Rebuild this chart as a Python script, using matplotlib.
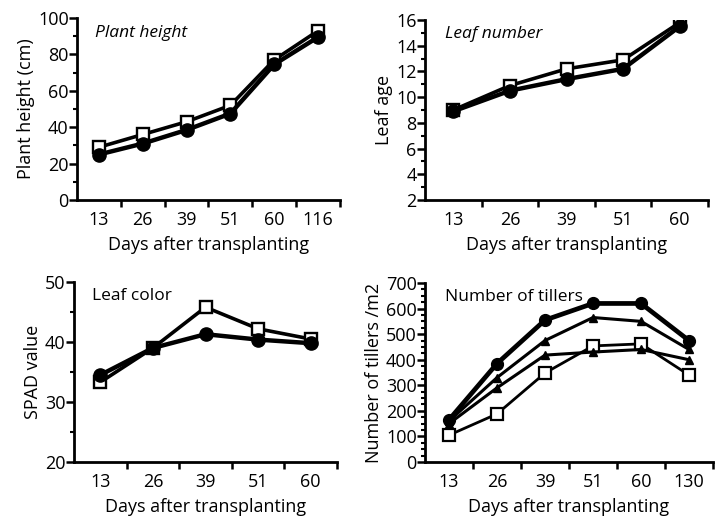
import matplotlib
matplotlib.use("Agg")
import matplotlib.pyplot as plt
from matplotlib.ticker import MultipleLocator, FixedLocator

plt.rcParams['font.family'] = ['Open Sans', 'DejaVu Sans']

# ---------------- data ----------------
ph_days = ["13", "26", "39", "51", "60", "116"]
ph_square = [29, 36, 43, 52, 77, 93]
ph_circle = [25, 31, 38.5, 47.5, 74.5, 89.5]

ln_days = ["13", "26", "39", "51", "60"]
ln_square = [9.0, 10.9, 12.2, 12.9, 15.8]
ln_circle = [8.9, 10.5, 11.4, 12.2, 15.5]

lc_days = ["13", "26", "39", "51", "60"]
lc_square = [33.3, 39.0, 45.8, 42.2, 40.5]
lc_circle = [34.5, 39.0, 41.3, 40.4, 39.8]

nt_days = ["13", "26", "39", "51", "60", "130"]
nt_circle = [165, 385, 555, 620, 620, 475]
nt_tri1 = [160, 330, 475, 565, 550, 440]
nt_tri2 = [150, 290, 418, 430, 440, 400]
nt_square = [105, 188, 348, 454, 462, 340]

W, H = 717, 519
fig = plt.figure(figsize=(W / 100, H / 100), dpi=100)


def ax_px(l, r, t, b):
    return fig.add_axes([l / W, 1 - b / H, (r - l) / W, (b - t) / H])


LW = 2.6
FS = 13


def style(ax, cats, ylim, ymaj, ymin, ylabel, title, italic):
    n = len(cats)
    ax.set_xlim(-0.5, n - 0.5)
    ax.set_ylim(*ylim)
    for s in ['top', 'right']:
        ax.spines[s].set_visible(False)
    for s in ['left', 'bottom']:
        ax.spines[s].set_linewidth(2.0)
    ax.xaxis.set_major_locator(FixedLocator(range(n)))
    ax.set_xticklabels(cats, fontsize=FS)
    ax.xaxis.set_minor_locator(FixedLocator([i + 0.5 for i in range(n)]))
    ax.tick_params(axis='x', which='major', length=0, pad=8)
    ax.tick_params(axis='x', which='minor', length=5, width=1.8, direction='out')
    ax.yaxis.set_major_locator(MultipleLocator(ymaj))
    ax.yaxis.set_minor_locator(MultipleLocator(ymin))
    ax.tick_params(axis='y', which='major', length=6, width=1.8, direction='out',
                   labelsize=FS, pad=0)
    ax.tick_params(axis='y', which='minor', length=3, width=1.5, direction='out')
    ax.set_xlabel("Days after transplanting", fontsize=FS, labelpad=5)
    ax.set_ylabel(ylabel, fontsize=FS, labelpad=2)
    ax.text(0.07, 0.92, title, transform=ax.transAxes, fontsize=FS - 0.5,
            style='italic' if italic else 'normal', va='center', ha='left')


def sq(ax, x, y):
    ax.plot(x, y, color='black', lw=LW, marker='s', ms=9, mfc='white',
            mec='black', mew=1.7, zorder=3)


def ci(ax, x, y):
    ax.plot(x, y, color='black', lw=LW + 0.6, marker='o', ms=9.5, mfc='black',
            mec='black', zorder=4)


# Panel 1: Plant height
ax1 = ax_px(77, 340, 18, 200)
x = list(range(len(ph_days)))
sq(ax1, x, ph_square)
ci(ax1, x, ph_circle)
style(ax1, ph_days, (0, 100), 20, 10, "Plant height (cm)", "Plant height", True)

# Panel 2: Leaf number
ax2 = ax_px(425, 708, 20, 200)
x = list(range(len(ln_days)))
sq(ax2, x, ln_square)
ci(ax2, x, ln_circle)
style(ax2, ln_days, (2, 16), 2, 1, "Leaf age", "Leaf number", True)

# Panel 3: Leaf color
ax3 = ax_px(74, 337, 282, 462)
x = list(range(len(lc_days)))
sq(ax3, x, lc_square)
ci(ax3, x, lc_circle)
style(ax3, lc_days, (20, 50), 10, 5, "SPAD value", "Leaf color", False)

# Panel 4: Number of tillers
ax4 = ax_px(425, 713, 283, 462)
x = list(range(len(nt_days)))
ax4.plot(x, nt_square, color='black', lw=2.0, marker='s', ms=8, mfc='white',
         mec='black', mew=1.6, zorder=3)
ax4.plot(x, nt_tri2, color='black', lw=2.2, marker='^', ms=6, mfc='black',
         mec='black', zorder=3)
ax4.plot(x, nt_tri1, color='black', lw=2.2, marker='^', ms=6, mfc='black',
         mec='black', zorder=3)
ax4.plot(x, nt_circle, color='black', lw=3.4, marker='o', ms=8.5, mfc='black',
         mec='black', zorder=4)
style(ax4, nt_days, (0, 700), 100, 25, "Number of tillers /m2", "Number of tillers", False)

fig.savefig("out.png", dpi=100)
